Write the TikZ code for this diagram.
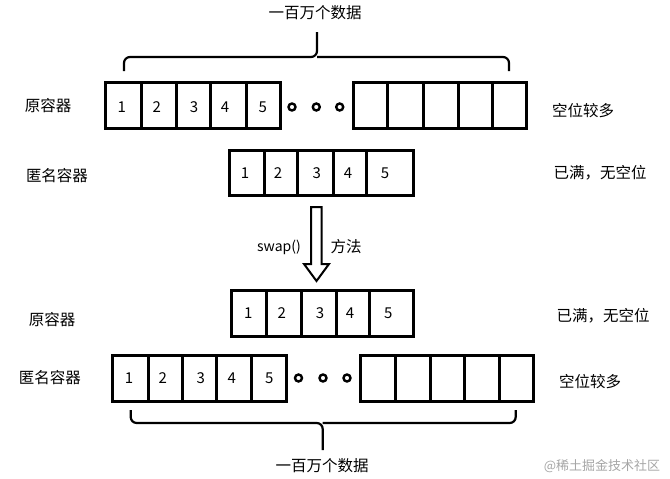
\documentclass[tikz,border=0pt]{standalone}
\usepackage{fontspec}
\setmainfont{Noto Sans CJK SC}
\begin{document}
\begin{tikzpicture}[x=1pt,y=-1pt,
  box/.style={line width=3pt,line join=miter},
  brace/.style={line width=2.2pt,rounded corners=6pt},
  num/.style={inner sep=0pt,font=\fontsize{15}{18}\selectfont},
  lbl/.style={inner sep=0pt,font=\fontsize{15.5}{18}\selectfont},
  dotring/.style={circle,draw,line width=2.4pt,minimum size=7pt,inner sep=0pt},
  wm/.style={inner sep=0pt,text=black!35,font=\fontsize{13}{15}\selectfont}]
\useasboundingbox (0,0) rectangle (670,479);
% ---------- top brace
\node[lbl] (title1) at (315,13) {一百万个数据};
\coordinate (b1m) at (317,57);
\coordinate (b1t) at (317,32);
\draw[brace] (124,71) |- (b1m) -- (b1t);
\draw[brace] (509,71) |- (b1m);
% ---------- top row (original container)
\foreach \a/\b in {105/141.7,141.7/176.7,176.7/210.7,210.7/246,246/280,
                   353/387.7,387.7/423,423/458,458/492.7,492.7/526}
  \draw[box] (\a,82) rectangle (\b,128);
\foreach \x/\t [count=\i] in {121.7/1,156.7/2,194/3,225/4,262.7/5}
  \node[num] (ta\i) at (\x,107) {\t};
\foreach \x [count=\i] in {292,316.3,339.7}
  \node[dotring] (tc\i) at (\x,107) {};
\node[lbl] (l1) at (48,106) {原容器};
\node[lbl] (r1) at (583,111) {空位较多};
% ---------- middle row (anonymous container)
\foreach \a/\b in {229/264.3,264.3/297.7,297.7/333.3,333.3/366.7,366.7/413}
  \draw[box] (\a,150) rectangle (\b,195);
\foreach \x/\t [count=\i] in {245/1,278/2,316.7/3,348/4,385/5}
  \node[num] (ma\i) at (\x,173) {\t};
\node[lbl] (l2) at (57,176) {匿名容器};
\node[lbl] (r2) at (600,173) {已满，无空位};
% ---------- swap arrow
\draw[line width=2pt,line join=miter]
  (311,207) -- (321.5,207) -- (321.5,264) -- (329,264) -- (316.5,281)
  -- (304,264) -- (311,264) -- cycle;
\node[inner sep=0pt,font=\fontsize{14}{16}\selectfont] (sw) at (279,247) {swap()};
\node[lbl] (ff) at (346,247) {方法};
% ---------- bottom middle row (original container after swap)
\foreach \a/\b in {231.7/266.7,266.7/301,301/336,336/369.3,369.3/413}
  \draw[box] (\a,290) rectangle (\b,336);
\foreach \x/\t [count=\i] in {248.3/1,281.7/2,320/3,350/4,388.3/5}
  \node[num] (ba\i) at (\x,313) {\t};
\node[lbl] (l3) at (52,320) {原容器};
\node[lbl] (r3) at (603,316) {已满，无空位};
% ---------- bottom row (anonymous container after swap)
\foreach \a/\b in {112.7/148,148/182.7,182.7/216.7,216.7/251.7,251.7/286,
                   360/395,395/430,430/464,464/499,499/533}
  \draw[box] (\a,355) rectangle (\b,401);
\foreach \x/\t [count=\i] in {129/1,162.7/2,200.7/3,231.7/4,269.3/5}
  \node[num] (ca\i) at (\x,378) {\t};
\foreach \x [count=\i] in {298.5,323,347}
  \node[dotring] (cc\i) at (\x,378) {};
\node[lbl] (l4) at (50,378) {匿名容器};
\node[lbl] (r4) at (590,382) {空位较多};
% ---------- bottom brace
\coordinate (b2m) at (322.7,423);
\coordinate (b2t) at (322.7,450);
\draw[brace] (130.7,410) |- (b2m) -- (b2t);
\draw[brace] (515.7,410) |- (b2m);
\node[lbl] (title2) at (322,466) {一百万个数据};
% ---------- watermark
\node[wm] (wmk) at (602,466) {@稀土掘金技术社区};
\end{tikzpicture}
\end{document}
